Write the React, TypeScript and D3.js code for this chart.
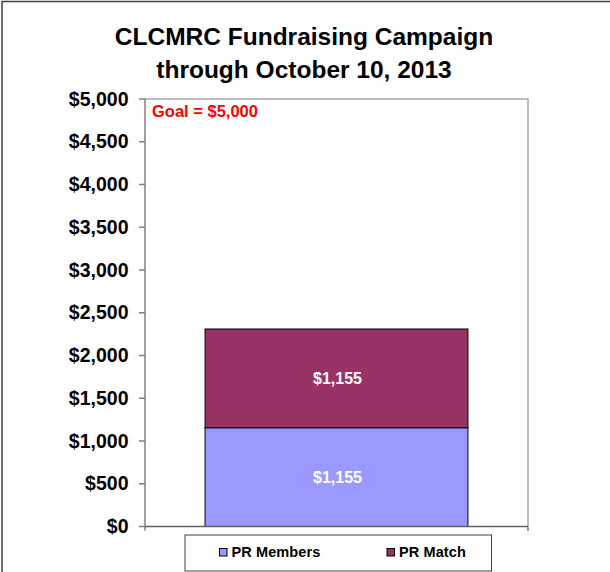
import React from "react";
import * as d3 from "d3";

const titleLines = ["CLCMRC Fundraising Campaign", "through October 10, 2013"];
const categories = ["Total"];
const seriesNames = ["PR Members", "PR Match"];
const seriesColors = ["#9999ff", "#993366"];
const prMembers = [1155];
const prMatch = [1155];
const yTicks = [0, 500, 1000, 1500, 2000, 2500, 3000, 3500, 4000, 4500, 5000];
const goalLabel = "Goal = $5,000";

const W = 610;
const H = 572;
const FONT = "'Liberation Sans', Arial, Helvetica, sans-serif";

export default function App() {
  const plotLeft = 145;
  const plotRight = 528;
  const plotTop = 99;
  const plotBottom = 526.5;

  const y = d3.scaleLinear().domain([0, 5000]).range([plotBottom, plotTop]);
  const x = d3
    .scaleBand<string>()
    .domain(categories)
    .range([plotLeft, plotRight])
    .padding(0.186);

  const fmt = (v: number) => "$" + d3.format(",")(v);

  const stackData = categories.map((c, i) => ({
    cat: c,
    "PR Members": prMembers[i],
    "PR Match": prMatch[i],
  }));
  const stacked = d3.stack<any>().keys(seriesNames)(stackData);

  return (
    <svg
      width={W}
      height={H}
      style={{ position: "absolute", left: 0, top: 0, background: "#fff" }}
      fontFamily={FONT}
    >
      <rect x={0} y={0} width={W} height={H} fill="#fff" />
      {/* outer chart border */}
      <rect x={2} y={1.5} width={W + 20} height={H + 20} fill="none" stroke="#404040" strokeWidth={1.5} />

      {/* title */}
      {titleLines.map((t, i) => (
        <text
          key={i}
          x={304}
          y={45 + i * 32.5}
          textAnchor="middle"
          fontSize={24.5}
          fontWeight="bold"
          fill="#000"
        >
          {t}
        </text>
      ))}

      {/* plot area border */}
      <path
        d={`M${plotLeft},${plotTop}H${plotRight}V${plotBottom}`}
        fill="none"
        stroke="#a6a6a6"
        strokeWidth={1.5}
      />

      {/* bars */}
      {stacked.map((layer, si) =>
        layer.map((d, i) => {
          const x0 = x(categories[i])!;
          const y0 = y(d[1]);
          const h = y(d[0]) - y(d[1]);
          return (
            <g key={`${si}-${i}`}>
              <rect
                x={x0}
                y={y0}
                width={x.bandwidth()}
                height={h}
                fill={seriesColors[si]}
                stroke="#000"
                strokeWidth={1}
              />
              <text
                x={x0 + x.bandwidth() / 2 + 1}
                y={y0 + h / 2 + 5.5}
                textAnchor="middle"
                fontSize={16}
                fontWeight="bold"
                fill="#fff"
              >
                {fmt(d[1] - d[0])}
              </text>
            </g>
          );
        })
      )}

      {/* y axis */}
      <line x1={plotLeft} x2={plotLeft} y1={plotTop} y2={plotBottom + 4} stroke="#808080" strokeWidth={1.5} />
      {yTicks.map((t) => (
        <g key={t}>
          <line x1={plotLeft - 6} x2={plotLeft} y1={y(t)} y2={y(t)} stroke="#808080" strokeWidth={1.5} />
          <text
            x={plotLeft - 16.5}
            y={y(t) + 6.5}
            textAnchor="end"
            fontSize={19.5}
            fontWeight="bold"
            fill="#000"
          >
            {fmt(t)}
          </text>
        </g>
      ))}

      {/* x axis */}
      <line x1={plotLeft} x2={plotRight} y1={plotBottom} y2={plotBottom} stroke="#606060" strokeWidth={1.5} />
      <line x1={plotRight} x2={plotRight} y1={plotBottom} y2={plotBottom + 4.5} stroke="#808080" strokeWidth={1.5} />

      {/* goal label */}
      <text x={152} y={116.5} fontSize={16.5} fontWeight="bold" fill="#ff0000">
        {goalLabel}
      </text>

      {/* legend */}
      <rect x={185} y={535} width={306.5} height={36} fill="#fff" stroke="#404040" strokeWidth={1} />
      {seriesNames.map((n, i) => {
        const lx = i === 0 ? 219.5 : 387;
        return (
          <g key={n}>
            <rect x={lx} y={548.5} width={7.5} height={7.5} fill={seriesColors[i]} stroke="#000" strokeWidth={1} />
            <text x={lx + 12} y={557} fontSize={14.5} fontWeight="bold" fill="#000" letterSpacing={0.1}>
              {n}
            </text>
          </g>
        );
      })}
    </svg>
  );
}
